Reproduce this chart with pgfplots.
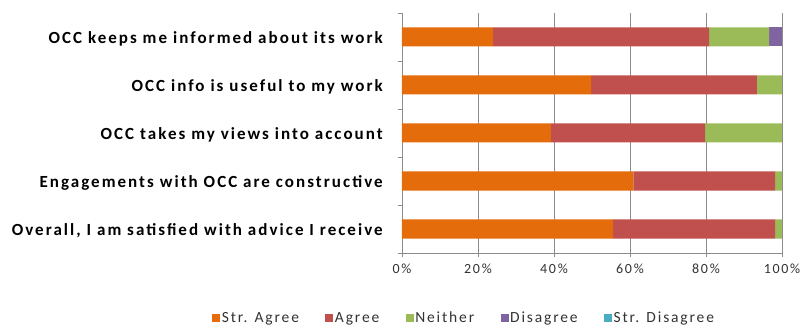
\documentclass[border=0pt]{standalone}
\usepackage{fontspec}
\setmainfont{Carlito}
\newfontfamily\lsfont[LetterSpace=12]{Carlito}
\usepackage{pgfplots}
\pgfplotsset{compat=1.18}
\definecolor{cOr}{HTML}{E46C0A}
\definecolor{cRd}{HTML}{C0504D}
\definecolor{cGr}{HTML}{9BBB59}
\definecolor{cPu}{HTML}{8064A2}
\definecolor{cCy}{HTML}{4BACC6}
\definecolor{axgray}{HTML}{8C8C8C}
\begin{document}
\begin{tikzpicture}
\begin{axis}[
  xbar stacked,
  scale only axis, width=380pt, height=240pt,
  xmin=0, xmax=100, ymin=-0.5, ymax=4.5,
  bar width=19pt,
  axis x line*=bottom, axis y line*=left,
  axis line style={draw=axgray, line width=0.8pt},
  every tick/.style={draw=axgray, line width=0.8pt},
  tick align=outside, major tick length=4pt,
  xtick={0,20,40,60,80,100},
  xticklabels={0\%,20\%,40\%,60\%,80\%,100\%},
  xticklabel style={font=\lsfont\fontsize{14}{16}\selectfont, text=black!80, yshift=-3pt},
  xmajorgrids, grid style={draw=axgray, line width=0.8pt},
  ytick={-0.5,0.5,1.5,2.5,3.5,4.5},
  yticklabels={},
  extra y ticks={0,1,2,3,4},
  extra y tick labels={{Overall, I am satisfied with advice I receive},{Engagements with OCC are constructive},{OCC takes my views into account},{OCC info is useful to my work},{OCC keeps me informed about its work}},
  extra y tick style={major tick length=0pt, yticklabel style={font=\lsfont\bfseries\fontsize{17}{19}\selectfont, anchor=east, inner sep=0pt, xshift=-19pt, yshift=-2pt}},
  legend columns=5,
  legend style={draw=none, at={(0.163,-0.271)}, anchor=center, font=\lsfont\fontsize{15.5}{17}\selectfont, text=black!80,
    nodes={inner xsep=1.5pt},
    /tikz/every even column/.append style={column sep=25pt}},
  legend image code/.code={\fill[#1] (0pt,-4pt) rectangle (8pt,4pt);},
]
\addplot[fill=cOr, draw=none] coordinates {(55.5,0) (60.9,1) (39.2,2) (49.8,3) (23.9,4)};
\addplot[fill=cRd, draw=none] coordinates {(42.7,0) (37.3,1) (40.6,2) (43.6,3) (56.9,4)};
\addplot[fill=cGr, draw=none] coordinates {(1.8,0) (1.8,1) (20.2,2) (6.6,3) (15.8,4)};
\addplot[fill=cPu, draw=none] coordinates {(0,0) (0,1) (0,2) (0,3) (3.4,4)};
\addplot[fill=cCy, draw=none] coordinates {(0,0) (0,1) (0,2) (0,3) (0,4)};
\legend{Str. Agree, Agree, Neither, Disagree, Str. Disagree}
\coordinate (ll) at (rel axis cs:0,0);
\end{axis}
\pgfresetboundingbox
\path (ll) ++(-402pt,-76pt) rectangle ++(803pt,329pt);
\end{tikzpicture}
\end{document}
